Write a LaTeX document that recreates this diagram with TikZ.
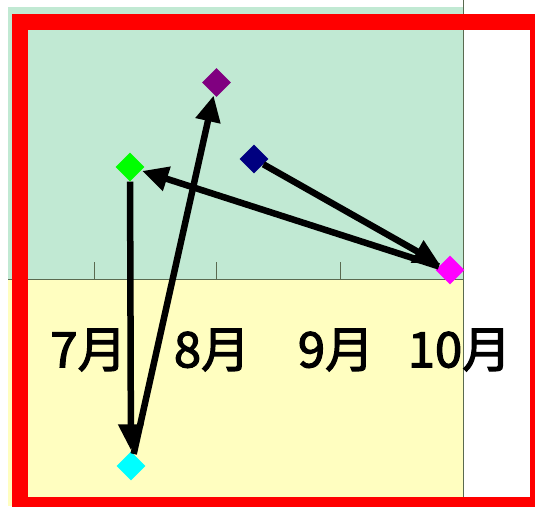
\documentclass[tikz,border=0pt]{standalone}
\usepackage{fontspec}
\newfontfamily\jpfont{Noto Sans CJK JP}[FakeBold=2.5]
\usetikzlibrary{arrows.meta,shapes.geometric}
\definecolor{bggreen}{HTML}{C1E9D3}
\definecolor{bgyellow}{HTML}{FFFEC0}
\definecolor{axisgray}{HTML}{5A6A50}
\definecolor{cpurple}{RGB}{128,0,128}
\definecolor{cnavy}{RGB}{0,0,128}
\definecolor{cgreen}{RGB}{0,255,0}
\definecolor{cmagenta}{RGB}{255,0,255}
\definecolor{ccyan}{RGB}{0,255,255}
\tikzset{
  mark diamond/.style={diamond, minimum size=29pt, inner sep=0pt, fill=#1, draw=none},
  arr/.style={line width=6.5pt, black, -{Triangle[length=26pt,width=24pt]}, shorten >=1pt},
  monthlabel/.style={font=\jpfont\fontsize{49}{52}\selectfont, inner sep=0pt, text=black},
  axisline/.style={draw=axisgray, line width=0.9pt},
}
\begin{document}
\begin{tikzpicture}[x=1pt,y=-1pt]
\useasboundingbox (0,0) rectangle (535,506);
\clip (0,0) rectangle (535,506);
\fill[white] (0,0) rectangle (535,506);
\fill[bggreen] (8,7) rectangle (463,279);
\fill[bgyellow] (8,279) rectangle (463,506);
\draw[axisline] (463,0) -- (463,506);
\draw[axisline] (8,279) -- (463,279);
\foreach \tx in {94.5,216.7,340} \draw[axisline] (\tx,262) -- (\tx,279);
\node[monthlabel] (m7) at (88.5,350) {7月};
\node[monthlabel] (m8) at (212,350) {8月};
\node[monthlabel] (m9) at (336,350) {9月};
\node[monthlabel] (m10) at (459.5,350) {10月};
\node[mark diamond=cpurple] (purple) at (216.5,82.5) {};
\node[mark diamond=cnavy] (navy) at (254,159) {};
\node[mark diamond=cgreen] (green) at (130,167) {};
\node[mark diamond=cmagenta] (magenta) at (450,270) {};
\node[mark diamond=ccyan] (cyan) at (131,466) {};
\draw[arr] (navy) -- (magenta);
\draw[arr] (magenta) -- (green);
\draw[arr] (green) -- (cyan);
\draw[arr] (cyan) -- (purple);
\draw[red, line width=16pt] (19.5,22) rectangle (538,505);
\end{tikzpicture}
\end{document}
